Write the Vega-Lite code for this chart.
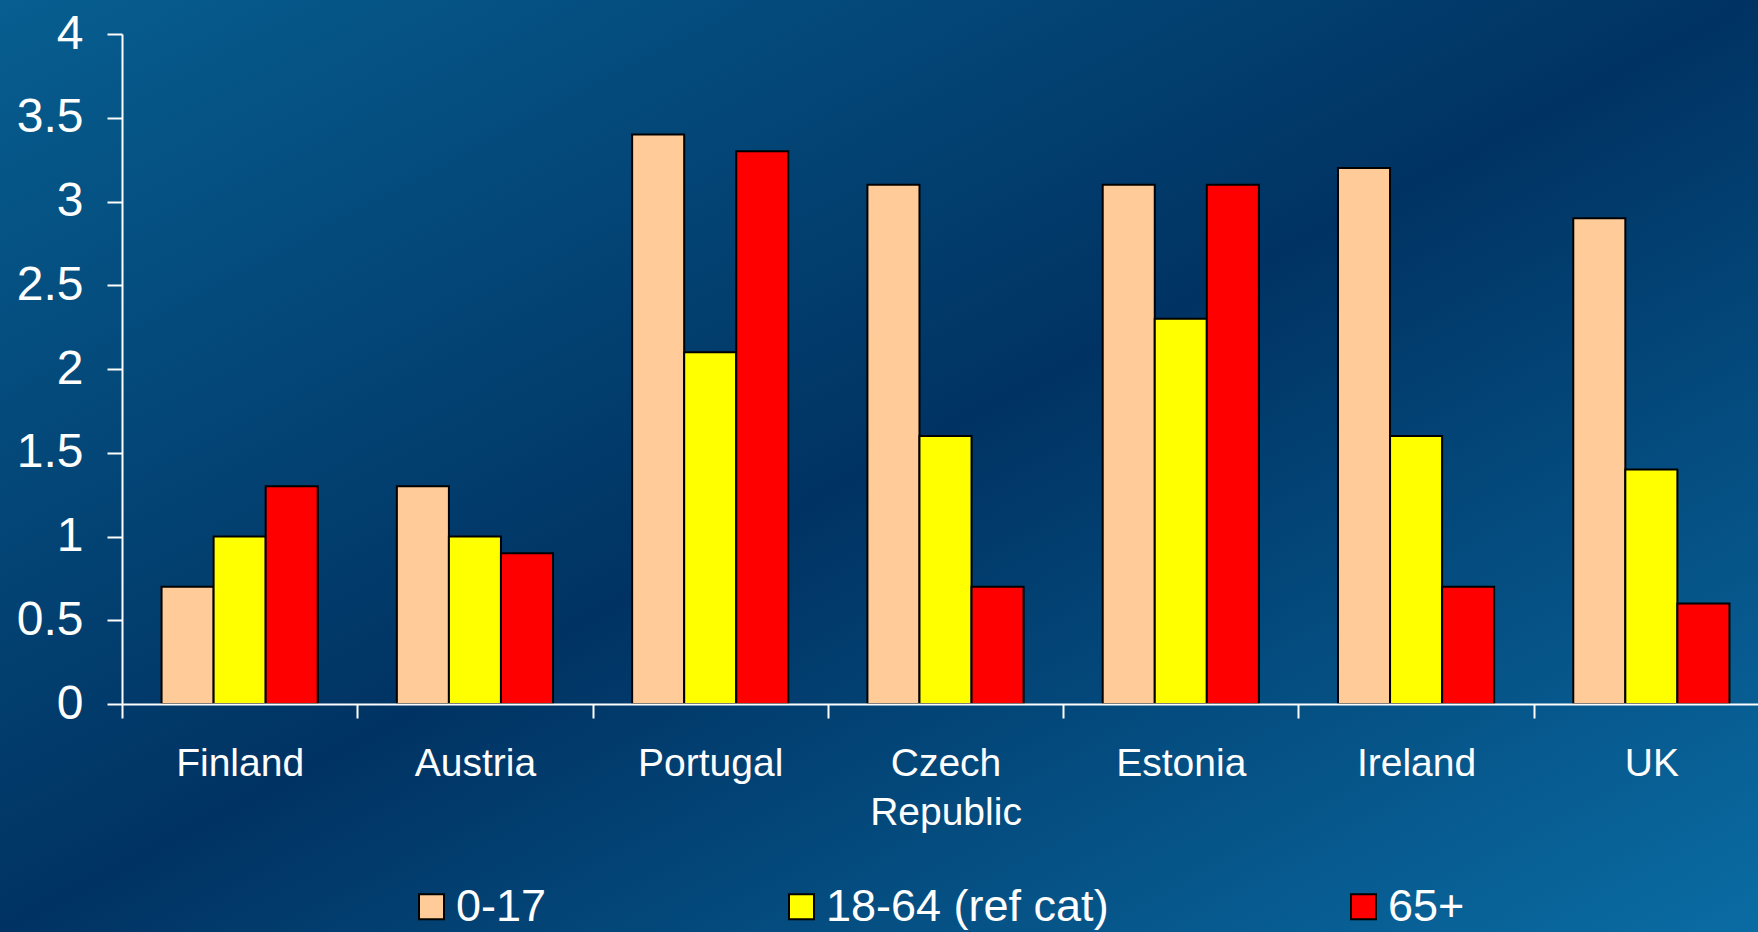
{
  "$schema": "https://vega.github.io/schema/vega-lite/v6.json",
  "width": 1758,
  "height": 932,
  "autosize": {"type": "none"},
  "padding": 0,
  "background": "#003366",
  "config": {
    "view": {"stroke": null},
    "font": "Liberation Sans"
  },
  "layer": [
    {
      "data": {"values": [{}]},
      "mark": {
        "type": "rect",
        "fill": {
          "gradient": "linear",
          "x1": 0, "y1": 0, "x2": 1, "y2": 1,
          "stops": [
            {"offset": 0, "color": "#075e90"},
            {"offset": 0.5, "color": "#003363"},
            {"offset": 1, "color": "#0a6ca3"}
          ]
        }
      },
      "encoding": {}
    },
    {
      "data": {
        "values": [
          {"Country": "Finland", "Age": "0-17", "Value": 0.7},
          {"Country": "Finland", "Age": "18-64 (ref cat)", "Value": 1.0},
          {"Country": "Finland", "Age": "65+", "Value": 1.3},
          {"Country": "Austria", "Age": "0-17", "Value": 1.3},
          {"Country": "Austria", "Age": "18-64 (ref cat)", "Value": 1.0},
          {"Country": "Austria", "Age": "65+", "Value": 0.9},
          {"Country": "Portugal", "Age": "0-17", "Value": 3.4},
          {"Country": "Portugal", "Age": "18-64 (ref cat)", "Value": 2.1},
          {"Country": "Portugal", "Age": "65+", "Value": 3.3},
          {"Country": "Czech Republic", "Age": "0-17", "Value": 3.1},
          {"Country": "Czech Republic", "Age": "18-64 (ref cat)", "Value": 1.6},
          {"Country": "Czech Republic", "Age": "65+", "Value": 0.7},
          {"Country": "Estonia", "Age": "0-17", "Value": 3.1},
          {"Country": "Estonia", "Age": "18-64 (ref cat)", "Value": 2.3},
          {"Country": "Estonia", "Age": "65+", "Value": 3.1},
          {"Country": "Ireland", "Age": "0-17", "Value": 3.2},
          {"Country": "Ireland", "Age": "18-64 (ref cat)", "Value": 1.6},
          {"Country": "Ireland", "Age": "65+", "Value": 0.7},
          {"Country": "UK", "Age": "0-17", "Value": 2.9},
          {"Country": "UK", "Age": "18-64 (ref cat)", "Value": 1.4},
          {"Country": "UK", "Age": "65+", "Value": 0.6}
        ]
      },
      "mark": {"type": "bar", "stroke": "#000000", "strokeWidth": 2},
      "encoding": {
        "x": {
          "field": "Country",
          "type": "nominal",
          "sort": ["Finland", "Austria", "Portugal", "Czech Republic", "Estonia", "Ireland", "UK"],
          "scale": {"range": [122, 1769], "paddingInner": 0, "paddingOuter": 0},
          "axis": {
            "title": null,
            "orient": "bottom",
            "offset": -228,
            "zindex": 1,
            "tickBand": "extent",
            "domainColor": "#ffffff",
            "domainWidth": 2,
            "tickColor": "#ffffff",
            "tickWidth": 2,
            "tickSize": 14,
            "labelColor": "#ffffff",
            "labelFont": "Liberation Sans",
            "labelFontSize": 39,
            "labelPadding": 26,
            "labelLineHeight": 49,
            "labelAngle": 0,
            "labelOverlap": false,
            "labelExpr": "datum.label == 'Czech Republic' ? ['Czech', 'Republic'] : datum.label"
          }
        },
        "xOffset": {
          "field": "Age",
          "type": "nominal",
          "scale": {"domain": ["0-17", "18-64 (ref cat)", "65+"], "paddingInner": 0, "paddingOuter": 0.76}
        },
        "y": {
          "field": "Value",
          "type": "quantitative",
          "scale": {"domain": [0, 4], "range": [704, 34], "nice": false, "zero": true},
          "axis": {
            "title": null,
            "orient": "left",
            "offset": -122,
            "zindex": 1,
            "values": [0, 0.5, 1, 1.5, 2, 2.5, 3, 3.5, 4],
            "format": "~g",
            "grid": false,
            "domainColor": "#ffffff",
            "domainWidth": 2,
            "tickColor": "#ffffff",
            "tickWidth": 2,
            "tickSize": 15,
            "labelColor": "#ffffff",
            "labelFont": "Liberation Sans",
            "labelFontSize": 48,
            "labelPadding": 24,
            "labelFlush": false,
            "labelOverlap": false
          }
        },
        "color": {
          "field": "Age",
          "type": "nominal",
          "scale": {
            "domain": ["0-17", "18-64 (ref cat)", "65+"],
            "range": ["#FFCC99", "#FFFF00", "#FF0000"]
          },
          "legend": {
            "title": null,
            "orient": "none",
            "direction": "horizontal",
            "legendX": 409,
            "legendY": 884,
            "padding": 0,
            "columnPadding": 232,
            "symbolType": "square",
            "symbolSize": 625,
            "symbolStrokeColor": "#000000",
            "symbolStrokeWidth": 2,
            "labelColor": "#ffffff",
            "labelFont": "Liberation Sans",
            "labelFontSize": 45,
            "labelOffset": 2,
            "labelLimit": 400
          }
        }
      }
    }
  ]
}
